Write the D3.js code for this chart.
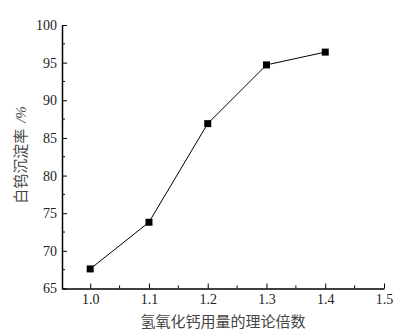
<!DOCTYPE html>
<html><head><meta charset="utf-8">
<script src="https://cdn.jsdelivr.net/npm/d3@7"></script>
<style>body{margin:0;background:#fff}svg{display:block}</style>
</head><body>
<script>
const xValues = [1.0, 1.1, 1.2, 1.3, 1.4];
const yValues = [67.6, 73.8, 86.9, 94.7, 96.4];
const xTicks = [1.0, 1.1, 1.2, 1.3, 1.4, 1.5];
const yTicks = [65, 70, 75, 80, 85, 90, 95, 100];
const xLabel = "氢氧化钙用量的理论倍数";
const yLabelMain = "白钨沉淀率";
const yLabelUnit = "/%";

const W = 401, H = 336;
const svg = d3.select("body").append("svg").attr("width", W).attr("height", H);
const x = d3.scaleLinear().domain([0.952, 1.5]).range([62, 384]);
const y = d3.scaleLinear().domain([65, 100]).range([288.5, 25]);

const serif = "'Liberation Serif','DejaVu Serif',serif";
const cjk = "'Noto Sans CJK SC',sans-serif";

const xMinor = d3.range(1.05, 1.5, 0.1);
const yMinor = d3.range(67.5, 100, 5);

const gx = svg.append("g").attr("transform", `translate(0,${y(65)})`)
  .call(d3.axisBottom(x).tickValues(xTicks).tickFormat(d3.format(".1f")).tickSizeInner(-5).tickSizeOuter(0).tickPadding(6));
gx.select(".domain").attr("stroke-width", 1.5);
gx.selectAll("text").attr("font-family", serif).attr("font-size", 14).attr("fill", "#222");
gx.selectAll(".minor").data(xMinor).enter().append("line").attr("class","minor")
  .attr("x1", d => x(d)).attr("x2", d => x(d)).attr("y1", 0).attr("y2", -3).attr("stroke", "#000");

const gy = svg.append("g").attr("transform", `translate(${x.range()[0]},0)`)
  .call(d3.axisLeft(y).tickValues(yTicks).tickSizeInner(-5).tickSizeOuter(0).tickPadding(5));
gy.select(".domain").attr("stroke-width", 1.5);
gy.selectAll("text").attr("font-family", serif).attr("font-size", 14).attr("fill", "#222");
gy.selectAll(".minor").data(yMinor).enter().append("line").attr("class","minor")
  .attr("x1", 0).attr("x2", 3).attr("y1", d => y(d)).attr("y2", d => y(d)).attr("stroke", "#000");

const pts = xValues.map((v, i) => [v, yValues[i]]);
svg.append("path").datum(pts)
  .attr("d", d3.line().x(d => x(d[0])).y(d => y(d[1])))
  .attr("fill", "none").attr("stroke", "#000").attr("stroke-width", 1);
svg.selectAll(".pt").data(pts).enter().append("rect").attr("class","pt")
  .attr("x", d => x(d[0]) - 3.5).attr("y", d => y(d[1]) - 3.5)
  .attr("width", 7).attr("height", 7).attr("fill", "#000");

svg.append("text").attr("x", 223).attr("y", 327).attr("text-anchor", "middle")
  .attr("font-family", cjk).attr("font-size", 15).attr("fill", "#444").text(xLabel);
const yl = svg.append("text").attr("transform", `translate(26,155) rotate(-90)`).attr("text-anchor", "middle")
  .attr("font-family", cjk).attr("font-size", 15).attr("fill", "#444");
yl.append("tspan").text(yLabelMain);
yl.append("tspan").attr("dx", 6).attr("font-family", serif).attr("font-style", "italic").text(yLabelUnit);
</script>
</body></html>
